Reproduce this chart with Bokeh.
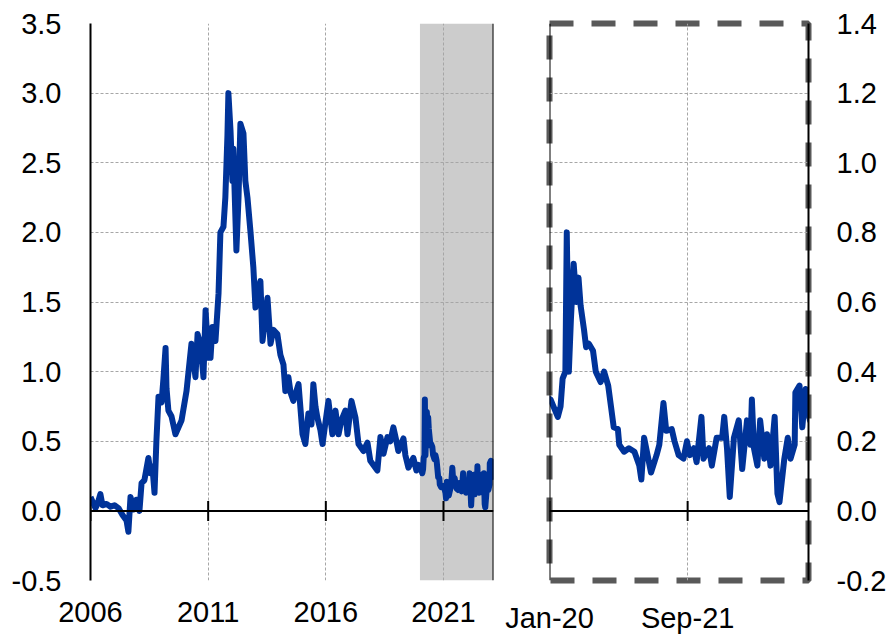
import math
from bokeh.plotting import figure
from bokeh.layouts import row
from bokeh.models import Range1d, FixedTicker, Span, BoxAnnotation, NumeralTickFormatter, ColumnDataSource
from bokeh.embed import file_html
from bokeh.resources import INLINE

# ---- data ----
# before 2020: decimal years
t_pre = [2006.00, 2006.13, 2006.21, 2006.30, 2006.42, 2006.51, 2006.68, 2006.85, 2007.02, 2007.19,
         2007.36, 2007.53, 2007.61, 2007.70, 2007.83, 2007.95, 2008.08, 2008.17, 2008.29, 2008.46,
         2008.55, 2008.63, 2008.72, 2008.80, 2008.89, 2009.02, 2009.10, 2009.19, 2009.23, 2009.31,
         2009.44, 2009.61, 2009.74, 2009.87, 2010.08, 2010.29, 2010.46, 2010.55, 2010.67, 2010.80,
         2010.89, 2011.01, 2011.10, 2011.18, 2011.31, 2011.44, 2011.52, 2011.65, 2011.73, 2011.82,
         2011.86, 2011.95, 2012.03, 2012.07, 2012.20, 2012.29, 2012.37, 2012.50, 2012.58, 2012.67,
         2012.80, 2012.92, 2013.01, 2013.14, 2013.22, 2013.31, 2013.43, 2013.52, 2013.65, 2013.77,
         2013.94, 2014.07, 2014.20, 2014.28, 2014.41, 2014.50, 2014.62, 2014.84, 2015.01, 2015.13,
         2015.26, 2015.39, 2015.47, 2015.56, 2015.64, 2015.77, 2015.86, 2015.98, 2016.11, 2016.28,
         2016.41, 2016.54, 2016.66, 2016.83, 2016.92, 2017.09, 2017.26, 2017.39, 2017.60, 2017.77,
         2017.89, 2018.02, 2018.19, 2018.32, 2018.45, 2018.62, 2018.74, 2018.87, 2019.00, 2019.08,
         2019.30, 2019.38, 2019.51, 2019.72, 2019.85, 2019.93]
v_pre = [0.10, 0.05, 0.02, 0.05, 0.12, 0.04, 0.05, 0.03, 0.04, 0.02,
         -0.03, -0.07, -0.15, 0.10, 0.01, 0.08, 0.00, 0.20, 0.22, 0.38,
         0.27, 0.32, 0.13, 0.50, 0.82, 0.78, 0.95, 1.17, 0.88, 0.72,
         0.68, 0.55, 0.60, 0.65, 0.86, 1.20, 0.96, 1.27, 1.20, 0.96,
         1.44, 1.10, 1.10, 1.32, 1.22, 1.56, 2.00, 2.04, 2.25, 2.70,
         3.00, 2.73, 2.37, 2.60, 1.87, 2.25, 2.78, 2.71, 2.37, 2.25,
         2.00, 1.75, 1.46, 1.60, 1.65, 1.22, 1.40, 1.53, 1.20, 1.30,
         1.27, 1.12, 1.05, 0.86, 0.96, 0.85, 0.79, 0.91, 0.55, 0.48,
         0.70, 0.62, 0.91, 0.75, 0.67, 0.58, 0.48, 0.63, 0.79, 0.55,
         0.72, 0.55, 0.65, 0.72, 0.55, 0.79, 0.67, 0.48, 0.43, 0.49,
         0.36, 0.33, 0.29, 0.53, 0.41, 0.53, 0.50, 0.60, 0.50, 0.43,
         0.52, 0.40, 0.31, 0.38, 0.29, 0.33]
# from 2020: months since Jan-2020
m_post = [0.15, 1.2, 1.6, 1.9, 2.3, 2.5, 2.8, 3.1, 3.5, 3.9, 4.2, 4.5, 5.0, 5.3, 5.7, 6.3, 6.7, 7.4,
          7.9, 8.5, 8.9, 9.3, 9.9, 10.1, 10.8, 11.5, 12.3, 13.0, 13.3, 13.7, 14.3, 14.7, 15.5, 15.9,
          16.5, 16.9, 17.7, 18.1, 18.7, 19.4, 19.9, 20.3, 20.9, 21.3, 22.0, 22.3, 23.1, 23.5, 24.2,
          25.0, 25.3, 25.7, 26.1, 26.7, 27.4, 27.9, 28.6, 29.1, 29.3, 29.6, 30.1, 30.5, 31.1, 31.5,
          32.0, 32.6, 33.0, 33.3, 34.0, 34.5, 34.9, 35.5, 35.6, 36.2, 36.6, 37.1, 37.7, 38.0]
v_post = [0.32, 0.27, 0.30, 0.38, 0.40, 0.80, 0.40, 0.55, 0.71, 0.60, 0.67, 0.59, 0.52, 0.47, 0.48,
          0.46, 0.40, 0.37, 0.40, 0.36, 0.30, 0.24, 0.235, 0.19, 0.17, 0.18, 0.17, 0.13, 0.09, 0.21,
          0.15, 0.11, 0.16, 0.19, 0.31, 0.23, 0.235, 0.20, 0.16, 0.15, 0.20, 0.16, 0.18, 0.14, 0.27,
          0.15, 0.18, 0.13, 0.21, 0.21, 0.27, 0.18, 0.04, 0.21, 0.26, 0.12, 0.26, 0.19, 0.32, 0.18,
          0.13, 0.26, 0.15, 0.22, 0.13, 0.27, 0.05, 0.025, 0.15, 0.21, 0.15, 0.19, 0.34, 0.36, 0.24,
          0.35, 0.26, 0.30]

left_tick_years = [2006, 2011, 2016, 2021]
left_tick_labels = ["2006", "2011", "2016", "2021"]
right_tick_ym = [(2020, 1), (2021, 9)]
right_tick_labels = ["Jan-20", "Sep-21"]
left_y_ticks = [-0.5, 0.0, 0.5, 1.0, 1.5, 2.0, 2.5, 3.0, 3.5]
right_y_ticks = [-0.2, 0.0, 0.2, 0.4, 0.6, 0.8, 1.0, 1.2, 1.4]
shade_start_ym = (2020, 1)
end_months = 205.5  # months since Jan-2006 at the right edge

def ym(y, m):
    return (y - 2006) * 12 + (m - 1)

base2020 = ym(2020, 1)
xs = [(t - 2006) * 12 for t in t_pre] + [base2020 + m for m in m_post]
vs = v_pre + v_post
src = ColumnDataSource(dict(x=xs, y=vs))

FONT = "Liberation Sans"
LINE_COLOR = "#003399"
GRID_COLOR = "#a6a6a6"

def style(p):
    p.background_fill_color = "white"
    p.border_fill_color = "white"
    for g in (p.xgrid, p.ygrid):
        g.grid_line_color = GRID_COLOR
        g.grid_line_dash = "3 2"
        g.grid_line_width = 1
    for ax in p.axis:
        ax.major_label_text_font = FONT
        ax.major_label_text_font_size = "29px"
        ax.major_label_text_color = "#000000"
        ax.minor_tick_line_color = None
        ax.major_tick_in = 0
        ax.major_tick_out = 0
    p.xaxis.axis_line_color = None
    p.xaxis.major_tick_line_color = None
    p.xaxis.major_label_standoff = 21
    p.yaxis.axis_line_color = "black"
    p.yaxis.axis_line_width = 2
    p.yaxis.major_tick_line_color = None

# ---- left panel ----
lt = [ym(y, 1) for y in left_tick_years]
p1 = figure(width=495, height=636, output_backend="svg", toolbar_location=None,
            x_range=Range1d(0, end_months), y_range=Range1d(left_y_ticks[0], left_y_ticks[-1]),
            min_border_left=90, min_border_right=2, min_border_top=23, min_border_bottom=56)
p1.outline_line_color = None
style(p1)
p1.xaxis.ticker = FixedTicker(ticks=lt)
p1.xaxis.major_label_overrides = {t: l for t, l in zip(lt, left_tick_labels)}
p1.yaxis.ticker = FixedTicker(ticks=left_y_ticks)
p1.yaxis.formatter = NumeralTickFormatter(format="0.0")
p1.yaxis.major_label_standoff = 29
p1.add_layout(BoxAnnotation(left=ym(*shade_start_ym), fill_color="#cccccc", fill_alpha=1.0,
                            line_color=None, level="image"))
p1.add_layout(Span(location=0, dimension="width", line_color="black", line_width=2))
p1.add_layout(Span(location=end_months, dimension="height", line_color="black", line_width=2))
p1.scatter(x=lt, y=[0] * len(lt), marker="dash", angle=math.pi / 2, size=20,
           line_color="black", line_width=2)
p1.line("x", "y", source=src, line_color=LINE_COLOR, line_width=6, line_join="round")

# ---- right panel ----
rt = [ym(y, m) for y, m in right_tick_ym]
p2 = figure(width=401, height=636, output_backend="svg", toolbar_location=None,
            x_range=Range1d(base2020, end_months), y_range=Range1d(right_y_ticks[0], right_y_ticks[-1]),
            y_axis_location="right",
            min_border_left=54, min_border_right=88, min_border_top=23, min_border_bottom=56)
style(p2)
p2.outline_line_color = "#595959"
p2.outline_line_width = 6
p2.outline_line_dash = "24 18"
p2.xaxis.ticker = FixedTicker(ticks=rt)
p2.xaxis.major_label_overrides = {t: l for t, l in zip(rt, right_tick_labels)}
p2.yaxis.ticker = FixedTicker(ticks=right_y_ticks)
p2.yaxis.formatter = NumeralTickFormatter(format="0.0")
p2.yaxis.major_label_standoff = 28
p2.add_layout(Span(location=0, dimension="width", line_color="black", line_width=2))
p2.add_layout(Span(location=base2020, dimension="height", line_color="black", line_width=2))
p2.scatter(x=rt, y=[0] * len(rt), marker="dash", angle=math.pi / 2, size=20,
           line_color="black", line_width=2)
p2.line("x", "y", source=src, line_color=LINE_COLOR, line_width=6, line_join="round")

layout = row(p1, p2, spacing=0)
open("out.html", "w").write(file_html(layout, INLINE))
